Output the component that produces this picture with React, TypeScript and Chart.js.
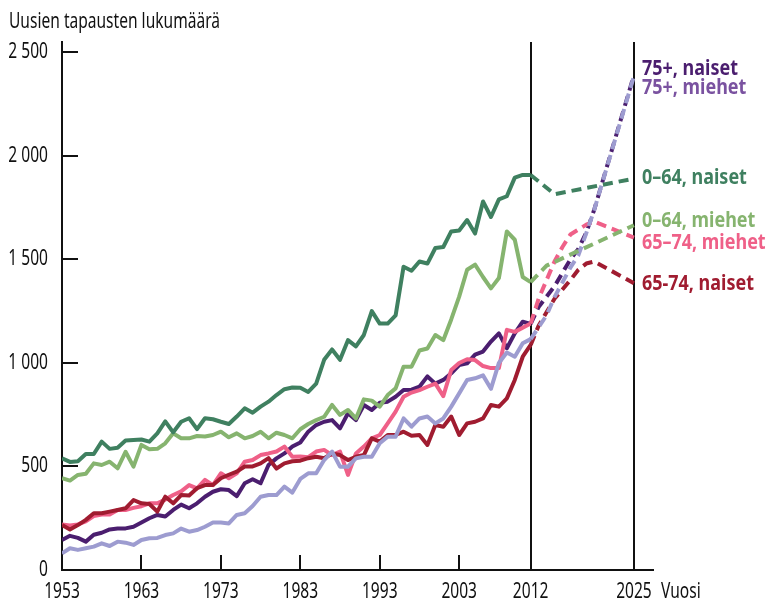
import React, { useEffect, useRef } from "react";
import { Chart, registerables } from "chart.js";

Chart.register(...registerables);

// ---- Data ----
const firstYear = 1953;
const histYears: number[] = Array.from({ length: 60 }, (_, i) => firstYear + i); // 1953..2012

const naiset064 = [540, 522, 525, 560, 560, 620, 585, 590, 625, 628, 630, 620, 660, 718, 665, 716, 733, 680, 733, 728, 716, 705, 741, 781, 760, 789, 813, 845, 873, 881, 880, 860, 900, 1015, 1065, 1015, 1110, 1080, 1135, 1250, 1190, 1190, 1230, 1465, 1445, 1490, 1480, 1555, 1560, 1635, 1640, 1690, 1625, 1780, 1705, 1790, 1805, 1895, 1908, 1908];
const miehet064 = [443, 432, 459, 465, 515, 507, 523, 491, 571, 499, 604, 583, 585, 612, 660, 636, 636, 647, 645, 652, 668, 641, 660, 636, 647, 668, 636, 663, 652, 636, 680, 705, 724, 740, 797, 749, 773, 732, 824, 818, 789, 845, 877, 982, 982, 1060, 1070, 1135, 1110, 1210, 1320, 1450, 1475, 1415, 1360, 1410, 1635, 1595, 1415, 1390];
const miehet6574 = [220, 215, 220, 235, 260, 268, 268, 290, 290, 300, 308, 322, 322, 340, 362, 380, 410, 394, 435, 410, 467, 443, 467, 523, 531, 555, 563, 572, 596, 547, 548, 545, 572, 580, 555, 572, 459, 563, 596, 636, 652, 708, 765, 837, 857, 869, 885, 900, 840, 966, 1000, 1018, 1014, 985, 975, 975, 1160, 1150, 1170, 1190];
const naiset6574 = [217, 196, 217, 242, 274, 274, 282, 290, 298, 338, 322, 319, 282, 354, 322, 362, 360, 395, 410, 410, 443, 460, 475, 500, 500, 515, 540, 490, 515, 525, 528, 540, 547, 540, 563, 555, 531, 547, 555, 636, 620, 652, 652, 668, 648, 652, 604, 700, 692, 741, 652, 708, 716, 732, 797, 789, 829, 918, 1030, 1087];
const naiset75 = [145, 165, 155, 137, 170, 180, 196, 200, 201, 209, 229, 250, 266, 258, 290, 316, 298, 322, 354, 378, 390, 386, 357, 419, 438, 419, 507, 539, 563, 596, 616, 668, 700, 716, 724, 684, 757, 724, 797, 773, 808, 813, 837, 869, 871, 885, 935, 900, 918, 950, 990, 998, 1040, 1055, 1103, 1143, 1071, 1143, 1199, 1188];
const miehet75 = [80, 105, 97, 105, 113, 129, 116, 137, 132, 121, 145, 153, 155, 169, 177, 200, 185, 193, 209, 229, 229, 225, 266, 274, 309, 354, 362, 362, 403, 374, 440, 467, 467, 531, 572, 499, 499, 539, 547, 547, 612, 644, 644, 732, 692, 732, 741, 708, 732, 789, 853, 918, 926, 940, 875, 1000, 1050, 1030, 1095, 1115];

// Projections
const projYearsN064 = [2012, 2015, 2025];
const projN064 = [1908, 1815, 1890];
const projYearsM064 = [2012, 2014, 2025];
const projM064 = [1390, 1470, 1665];
const projYearsM6574 = [2012, 2013, 2015, 2016, 2017, 2019, 2020, 2025];
const projM6574 = [1190, 1310, 1490, 1560, 1620, 1668, 1683, 1605];
const projYearsN6574 = [2012, 2013, 2015, 2017, 2018, 2019, 2020, 2025];
const projN6574 = [1087, 1180, 1310, 1400, 1450, 1480, 1490, 1385];
const projYearsN75 = [2012, 2013, 2015, 2017, 2018, 2019, 2020, 2025];
const projN75 = [1188, 1270, 1370, 1500, 1550, 1630, 1740, 2390];
const projYearsM75 = [2012, 2014, 2015, 2017, 2018, 2019, 2020, 2025];
const projM75 = [1115, 1230, 1318, 1460, 1520, 1627, 1739, 2385];

const xTickYears = [1953, 1963, 1973, 1983, 1993, 2003, 2012, 2025];
const yTickValues = [0, 500, 1000, 1500, 2000, 2500];
const yTickLabels = ["0", "500", "1 000", "1 500", "2 000", "2 500"];
const markerYears = [2012, 2025];

const yTitle = "Uusien tapausten lukumäärä";
const xTitle = "Vuosi";

const C_N064 = "#3f8060";
const C_M064 = "#86b46f";
const C_M6574 = "#ef6088";
const C_N6574 = "#a01c30";
const C_N75 = "#4b1e6f";
const C_M75 = "#9d9cd0";
const C_M75_LABEL = "#7a52a0";

const seriesLabels = [
  { text: "75+, naiset", value: 2390, color: C_N75, dy: -6 },
  { text: "75+, miehet", value: 2390, color: C_M75_LABEL, dy: 13 },
  { text: "0–64, naiset", value: 1890, color: C_N064, dy: -1 },
  { text: "0–64, miehet", value: 1665, color: C_M064, dy: -4 },
  { text: "65–74, miehet", value: 1605, color: C_M6574, dy: 5 },
  { text: "65-74, naiset", value: 1385, color: C_N6574, dy: 1 },
];

const FONT = '"Noto Sans", "Open Sans", "DejaVu Sans", sans-serif';

const pts = (xs: number[], ys: number[]) => xs.map((x, i) => ({ x, y: ys[i] }));

export default function App() {
  const ref = useRef<HTMLCanvasElement | null>(null);

  useEffect(() => {
    document.body.style.margin = "0";
    const canvas = ref.current!;
    const solid = (data: number[], color: string) => ({
      data: pts(histYears, data),
      borderColor: color,
      borderWidth: 4,
      pointRadius: 0,
      tension: 0,
      fill: false,
      borderJoinStyle: "round" as const,
    });
    const dashed = (xs: number[], data: number[], color: string) => ({
      data: pts(xs, data),
      borderColor: color,
      borderWidth: 4,
      pointRadius: 0,
      tension: 0,
      fill: false,
      borderDash: [10, 6],
      borderJoinStyle: "round" as const,
    });

    // condensed text helper (horizontal compression)
    const drawText = (ctx: CanvasRenderingContext2D, text: string, x: number, y: number, sx: number, align: CanvasTextAlign) => {
      ctx.save();
      ctx.translate(x, y);
      ctx.scale(sx, 1);
      ctx.textAlign = align;
      ctx.fillText(text, 0, 0);
      ctx.restore();
    };

    const overlay = {
      id: "overlay",
      beforeDatasetsDraw(chart: any) {
        const { ctx, chartArea, scales } = chart;
        ctx.save();
        ctx.strokeStyle = "#111";
        ctx.lineWidth = 2;
        markerYears.forEach((yr) => {
          const x = Math.round(scales.x.getPixelForValue(yr));
          ctx.beginPath();
          ctx.moveTo(x, chartArea.top);
          ctx.lineTo(x, chartArea.bottom);
          ctx.stroke();
        });
        ctx.restore();
      },
      afterDraw(chart: any) {
        const { ctx, chartArea, scales } = chart;
        ctx.save();
        ctx.strokeStyle = "#111";
        ctx.lineWidth = 2;
        yTickValues.forEach((v) => {
          const y = Math.round(scales.y.getPixelForValue(v));
          ctx.beginPath();
          ctx.moveTo(chartArea.left, y);
          ctx.lineTo(chartArea.left + 16, y);
          ctx.stroke();
        });
        xTickYears.forEach((yr) => {
          const x = Math.round(scales.x.getPixelForValue(yr));
          ctx.beginPath();
          ctx.moveTo(x, chartArea.bottom);
          ctx.lineTo(x, chartArea.bottom - 15);
          ctx.stroke();
        });

        // regular text
        ctx.fillStyle = "#111";
        ctx.font = `21px ${FONT}`;
        ctx.textBaseline = "alphabetic";
        const sReg = 211 / ctx.measureText(yTitle).width;
        drawText(ctx, yTitle, 9, 28, sReg, "left");
        ctx.textBaseline = "middle";
        yTickValues.forEach((v, i) => {
          drawText(ctx, yTickLabels[i], 48, scales.y.getPixelForValue(v), sReg, "right");
        });
        xTickYears.forEach((yr) => {
          drawText(ctx, String(yr), scales.x.getPixelForValue(yr), 592, sReg, "center");
        });
        drawText(ctx, xTitle, 661, 592, sReg, "left");

        // series labels (bold)
        ctx.font = `bold 21px ${FONT}`;
        const sBold = 96 / ctx.measureText("75+, naiset").width;
        const lx = scales.x.getPixelForValue(2025) + 8;
        seriesLabels.forEach((l) => {
          ctx.fillStyle = l.color;
          drawText(ctx, l.text, lx, scales.y.getPixelForValue(l.value) + l.dy, sBold, "left");
        });
        ctx.restore();
      },
    };

    const chart = new Chart(canvas, {
      type: "line",
      data: {
        datasets: [
          solid(naiset064, C_N064),
          dashed(projYearsN064, projN064, C_N064),
          solid(miehet064, C_M064),
          dashed(projYearsM064, projM064, C_M064),
          solid(miehet75, C_M75),
          dashed(projYearsM75, projM75, C_M75),
          solid(naiset6574, C_N6574),
          dashed(projYearsN6574, projN6574, C_N6574),
          solid(miehet6574, C_M6574),
          dashed(projYearsM6574, projM6574, C_M6574),
          solid(naiset75, C_N75),
          dashed(projYearsN75, projN75, C_N75),
        ] as any,
      },
      plugins: [overlay],
      options: {
        animation: false,
        responsive: false,
        maintainAspectRatio: false,
        layout: { padding: { left: 0, right: 112, top: 42, bottom: 0 } },
        plugins: { legend: { display: false }, tooltip: { enabled: false }, title: { display: false } },
        scales: {
          x: {
            type: "linear",
            min: 1953,
            max: 2027.4,
            afterBuildTicks: (scale: any) => {
              scale.ticks = xTickYears.map((v) => ({ value: v }));
            },
            afterFit: (scale: any) => {
              scale.height = 34;
            },
            grid: { display: true, drawOnChartArea: false, drawTicks: false },
            border: { display: true, color: "#111", width: 2 },
            ticks: { display: false },
          },
          y: {
            type: "linear",
            min: 0,
            max: 2550,
            afterBuildTicks: (scale: any) => {
              scale.ticks = yTickValues.map((v) => ({ value: v }));
            },
            afterFit: (scale: any) => {
              scale.width = 62;
            },
            grid: { display: true, drawOnChartArea: false, drawTicks: false },
            border: { display: true, color: "#111", width: 2 },
            ticks: { display: false },
          },
        },
      },
    });
    return () => chart.destroy();
  }, []);

  return (
    <div style={{ width: 765, height: 604, background: "#fff" }}>
      <canvas ref={ref} width={765} height={604} style={{ display: "block" }} />
    </div>
  );
}
